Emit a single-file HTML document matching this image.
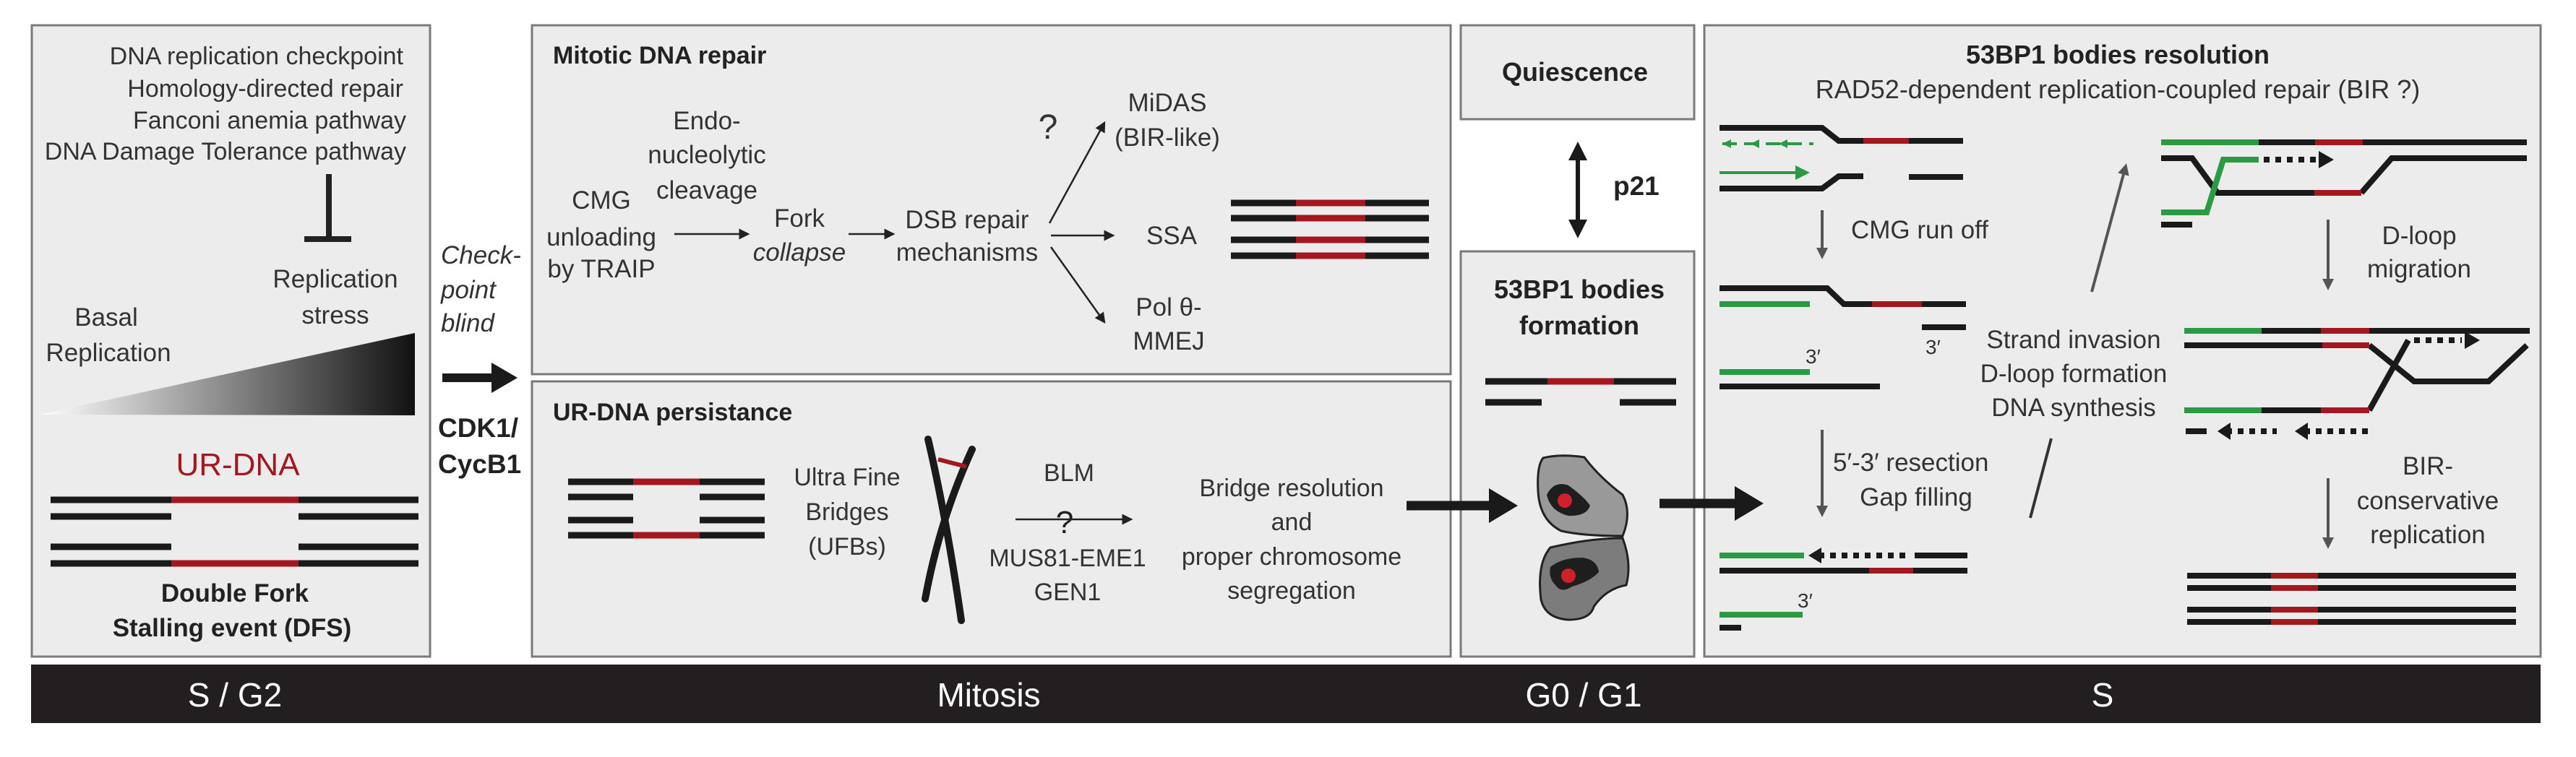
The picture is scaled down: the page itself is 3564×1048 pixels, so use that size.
<!DOCTYPE html>
<html><head><meta charset="utf-8"><style>
html,body{margin:0;padding:0;background:#fff;}
svg{display:block;}
text{font-family:"Liberation Sans",sans-serif;fill:#333;}
.b{font-weight:bold;fill:#222;}
</style></head><body>
<svg width="3564" height="1048" viewBox="0 0 3564 1048" xmlns="http://www.w3.org/2000/svg">
<defs>
<linearGradient id="g" x1="0" x2="1" y1="0" y2="0"><stop offset="0" stop-color="#fff"/><stop offset="1" stop-color="#111"/></linearGradient>
<marker id="ah" markerWidth="6" markerHeight="6" refX="5" refY="3" orient="auto" markerUnits="strokeWidth"><path d="M0,0 L6,3 L0,6 Z" fill="#222"/></marker>
<marker id="ahg" markerWidth="4" markerHeight="4" refX="3" refY="2" orient="auto" markerUnits="strokeWidth"><path d="M0,0 L4,2 L0,4 Z" fill="#555"/></marker>
<marker id="ahgr" markerWidth="5" markerHeight="5" refX="4" refY="2.5" orient="auto" markerUnits="strokeWidth"><path d="M0,0 L5,2.5 L0,5 Z" fill="#2a9a45"/></marker>
</defs>
<g fill="#ececec" stroke="#7a7a7a" stroke-width="3">
<rect x="44" y="35" width="551" height="874"/>
<rect x="736" y="35" width="1271" height="483"/>
<rect x="736" y="528" width="1271" height="381"/>
<rect x="2021" y="35" width="323" height="130"/>
<rect x="2021" y="348" width="323" height="561"/>
<rect x="2358" y="35" width="1157" height="874"/>
</g>
<rect x="43" y="920" width="3472" height="81" fill="#231f20"/>
<g style="font-size:46px">
<text x="325" y="978" text-anchor="middle" style="fill:#fff">S / G2</text>
<text x="1368" y="978" text-anchor="middle" style="fill:#fff">Mitosis</text>
<text x="2191" y="978" text-anchor="middle" style="fill:#fff">G0 / G1</text>
<text x="2909" y="978" text-anchor="middle" style="fill:#fff">S</text>
</g>

<!-- Panel 1 -->
<g style="font-size:34px" text-anchor="end">
<text x="558" y="89">DNA replication checkpoint</text>
<text x="558" y="134">Homology-directed repair</text>
<text x="562" y="178">Fanconi anemia pathway</text>
<text x="562" y="221">DNA Damage Tolerance pathway</text>
</g>
<path d="M455,241 V331 M421,331 H486" stroke="#222" stroke-width="8" fill="none"/>
<g style="font-size:35px" text-anchor="middle">
<text x="464" y="398">Replication</text><text x="464" y="448">stress</text>
<text x="147" y="451">Basal</text><text x="150" y="500">Replication</text>
</g>
<polygon points="55,574 574,461 574,575" fill="url(#g)"/>
<text x="329" y="658" text-anchor="middle" style="font-size:44px;fill:#a3171f">UR-DNA</text>
<g stroke-width="9" fill="none">
<path d="M70,692 H579 M70,715 H237 M413,715 H579 M70,757 H237 M413,757 H579 M70,780 H579" stroke="#1a1a1a"/>
<path d="M237,692 H413 M237,780 H413" stroke="#a3171f"/>
</g>
<text x="325" y="833" text-anchor="middle" class="b" style="font-size:35px">Double Fork</text>
<text x="321" y="881" text-anchor="middle" class="b" style="font-size:35px">Stalling event (DFS)</text>

<!-- checkpoint -->
<g style="font-size:35px;font-style:italic">
<text x="610" y="365">Check-</text><text x="610" y="413">point</text><text x="610" y="459">blind</text>
</g>
<path d="M612,523 H690" stroke="#1a1a1a" stroke-width="12"/>
<polygon points="680,502 716,523 680,544" fill="#1a1a1a"/>
<text x="606" y="605" class="b" style="font-size:37px">CDK1/</text>
<text x="606" y="655" class="b" style="font-size:37px">CycB1</text>

<!-- Mitotic DNA repair -->
<text x="765" y="88" class="b" style="font-size:34px">Mitotic DNA repair</text>
<g style="font-size:35px" text-anchor="middle">
<text x="978" y="179">Endo-</text><text x="978" y="226">nucleolytic</text><text x="978" y="275">cleavage</text>
<text x="832" y="289">CMG</text><text x="832" y="340">unloading</text><text x="832" y="384">by TRAIP</text>
<text x="1106" y="314">Fork</text><text x="1106" y="361" style="font-style:italic">collapse</text>
<text x="1338" y="316">DSB repair</text><text x="1338" y="361">mechanisms</text>
<text x="1615" y="154">MiDAS</text><text x="1615" y="202">(BIR-like)</text>
<text x="1621" y="338">SSA</text>
<text x="1617" y="437">Pol θ-</text><text x="1617" y="484">MMEJ</text>
<text x="1450" y="192" style="font-size:48px">?</text>
</g>
<g stroke="#222" stroke-width="2.5" fill="none" marker-end="url(#ah)">
<path d="M933,324 H1035"/>
<path d="M1174,324 H1236"/>
<path d="M1452,309 L1528,170"/>
<path d="M1454,326 L1540,326"/>
<path d="M1454,342 L1528,446"/>
</g>
<g stroke-width="9" fill="none">
<path d="M1703,281 H1977 M1703,302 H1977 M1703,332 H1977 M1703,354 H1977" stroke="#1a1a1a"/>
<path d="M1793,281 H1889 M1793,302 H1889 M1793,332 H1889 M1793,354 H1889" stroke="#a3171f"/>
</g>

<!-- UR-DNA persistance -->
<text x="765" y="582" class="b" style="font-size:34px">UR-DNA persistance</text>
<g stroke-width="9" fill="none">
<path d="M786,667 H1058 M786,688 H876 M968,688 H1058 M786,720 H876 M968,720 H1058 M786,741 H1058" stroke="#1a1a1a"/>
<path d="M876,667 H968 M876,741 H968" stroke="#a3171f"/>
</g>
<g style="font-size:34px" text-anchor="middle">
<text x="1172" y="672">Ultra Fine</text><text x="1172" y="720">Bridges</text><text x="1172" y="768">(UFBs)</text>
<text x="1479" y="666">BLM</text>
<text x="1477" y="784">MUS81-EME1</text><text x="1477" y="831">GEN1</text>
<text x="1787" y="687">Bridge resolution</text><text x="1787" y="734">and</text>
<text x="1787" y="782">proper chromosome</text><text x="1787" y="829">segregation</text>
<text x="1473" y="738" style="font-size:44px;fill:#222">?</text>
</g>
<path d="M1405,719 H1565" stroke="#222" stroke-width="2.5" marker-end="url(#ah)"/>
<g stroke="#1a1a1a" stroke-width="10" stroke-linecap="round" fill="none">
<path d="M1284,608 Q1310,720 1330,859"/>
<path d="M1345,622 Q1300,720 1280,829"/>
</g>
<path d="M1298,636 L1337,646" stroke="#a3171f" stroke-width="6"/>
<path d="M1946,700 H2070" stroke="#1a1a1a" stroke-width="13"/>
<polygon points="2060,676 2100,700 2060,724" fill="#1a1a1a"/>

<!-- Quiescence / 53BP1 formation -->
<text x="2179" y="112" text-anchor="middle" class="b" style="font-size:36px">Quiescence</text>
<path d="M2183,215 V310" stroke="#1a1a1a" stroke-width="6"/>
<polygon points="2170,222 2183,196 2196,222" fill="#1a1a1a"/>
<polygon points="2170,304 2183,330 2196,304" fill="#1a1a1a"/>
<text x="2232" y="270" class="b" style="font-size:37px">p21</text>
<text x="2185" y="413" text-anchor="middle" class="b" style="font-size:36px">53BP1 bodies</text>
<text x="2185" y="463" text-anchor="middle" class="b" style="font-size:36px">formation</text>
<g stroke-width="9" fill="none">
<path d="M2055,528 H2319 M2055,557 H2133 M2241,557 H2319" stroke="#1a1a1a"/>
<path d="M2141,528 H2233" stroke="#a3171f"/>
</g>
<path d="M2135,634 Q2160,628 2192,633 Q2212,660 2245,685 Q2258,710 2245,742 Q2190,742 2160,735 Q2130,720 2128,680 Q2126,645 2135,634 Z" fill="#999" stroke="#222" stroke-width="3"/>
<path d="M2140,685 Q2150,665 2170,672 Q2192,688 2200,700 Q2195,715 2170,714 Q2145,708 2140,685 Z" fill="#1e1e1e"/>
<circle cx="2165" cy="693" r="10" fill="#d0202a"/>
<path d="M2145,758 Q2200,745 2245,745 Q2258,780 2250,810 Q2222,815 2205,840 Q2200,858 2170,858 Q2138,856 2132,830 Q2126,780 2145,758 Z" fill="#7c7c7c" stroke="#222" stroke-width="3"/>
<path d="M2145,785 Q2160,772 2190,772 Q2210,775 2212,792 Q2200,805 2175,812 Q2160,822 2152,810 Q2142,800 2145,785 Z" fill="#1e1e1e"/>
<circle cx="2170" cy="797" r="10" fill="#d0202a"/>
<path d="M2296,697 H2410" stroke="#1a1a1a" stroke-width="13"/>
<polygon points="2400,673 2440,697 2400,721" fill="#1a1a1a"/>

<!-- 53BP1 resolution -->
<text x="2930" y="88" text-anchor="middle" class="b" style="font-size:36px">53BP1 bodies resolution</text>
<text x="2930" y="136" text-anchor="middle" style="font-size:36px">RAD52-dependent replication-coupled repair (BIR ?)</text>
<g fill="none" stroke-width="8" stroke-linejoin="miter">
<path d="M2379,177 H2521 L2544,195 H2716" stroke="#1a1a1a"/>
<path d="M2578,195 H2641" stroke="#a3171f"/>
<path d="M2379,261 H2521 L2544,244 H2578 M2641,245 H2716" stroke="#1a1a1a"/>
<path d="M2379,399 H2528 L2551,421 H2720 M2659,453 H2720 M2379,535 H2601" stroke="#1a1a1a"/>
<path d="M2590,421 H2659" stroke="#a3171f"/>
<path d="M2379,421 H2504 M2379,515 H2504" stroke="#2a9a45"/>
<path d="M2649,769 H2722 M2379,790 H2722 M2379,869 H2409" stroke="#1a1a1a"/>
<path d="M2586,790 H2647" stroke="#a3171f"/>
<path d="M2379,769 H2496 M2379,851 H2494" stroke="#2a9a45"/>
<path d="M2516,769 H2639" stroke="#1a1a1a" stroke-dasharray="8,8"/>
<path d="M3125,197 H3496 M2990,219 H3033 L3068,267 H3202 M3267,267 L3309,219 H3496 M2990,311 H3033" stroke="#1a1a1a"/>
<path d="M2990,197 H3125 M2990,294 H3053 L3076,221 H3125" stroke="#2a9a45"/>
<path d="M3203,197 H3269 M3202,267 H3267" stroke="#a3171f"/>
<path d="M3132,221 H3210" stroke="#1a1a1a" stroke-dasharray="8,8"/>
<path d="M3129,458 H3500 M3022,478 H3213 M3278,478 L3340,528 H3443 L3496,478 M3129,568 H3211 M3278,568 L3332,471 M3024,597 H3053" stroke="#1a1a1a"/>
<path d="M3022,458 H3129 M3022,568 H3129" stroke="#2a9a45"/>
<path d="M3211,458 H3278 M3213,478 H3278 M3211,568 H3278" stroke="#a3171f"/>
<path d="M3340,471 H3406" stroke="#1a1a1a" stroke-dasharray="8,8"/>
<path d="M3080,597 H3150 M3188,597 H3282" stroke="#1a1a1a" stroke-dasharray="8,8"/>
<path d="M3026,797 H3481 M3026,814 H3481 M3026,844 H3481 M3026,861 H3481" stroke="#1a1a1a"/>
<path d="M3142,797 H3207 M3142,814 H3207 M3142,844 H3207 M3142,861 H3207" stroke="#a3171f"/>
</g>
<g fill="#1a1a1a">
<polygon points="2502,769 2520,758 2520,780"/>
<polygon points="3229,221 3208,209 3208,233"/>
<polygon points="3431,471 3410,459 3410,483"/>
<polygon points="3068,597 3086,585 3086,609"/>
<polygon points="3175,597 3193,585 3193,609"/>
</g>
<g stroke="#2a9a45" stroke-width="4" fill="none">
<path d="M2383,199 H2509" stroke-dasharray="20,10"/>
<path d="M2379,239 H2500" marker-end="url(#ahgr)"/>
</g>
<g fill="#2a9a45"><polygon points="2383,199 2395,193 2395,205"/><polygon points="2422,199 2434,193 2434,205"/><polygon points="2461,199 2473,193 2473,205"/></g>
<g stroke="#555" stroke-width="4" fill="none" marker-end="url(#ahg)">
<path d="M2521,291 V355"/>
<path d="M2521,595 V712"/>
<path d="M2894,404 L2941,230"/>
<path d="M3221,304 V398"/>
<path d="M3221,662 V756"/>
</g>
<path d="M2838,607 L2809,717" stroke="#333" stroke-width="4"/>
<g style="font-size:35px">
<text x="2561" y="330">CMG run off</text>
<text x="2536" y="652">5′-3′ resection</text>
<text x="2651" y="700" text-anchor="middle">Gap filling</text>
<text x="2664" y="490" style="font-size:28px">3′</text>
<text x="2498" y="503" style="font-size:28px">3′</text>
<text x="2487" y="841" style="font-size:28px">3′</text>
<text x="2869" y="482" text-anchor="middle">Strand invasion</text>
<text x="2869" y="529" text-anchor="middle">D-loop formation</text>
<text x="2869" y="576" text-anchor="middle">DNA synthesis</text>
<text x="3347" y="338" text-anchor="middle">D-loop</text>
<text x="3347" y="384" text-anchor="middle">migration</text>
<text x="3359" y="657" text-anchor="middle">BIR-</text>
<text x="3359" y="705" text-anchor="middle">conservative</text>
<text x="3359" y="752" text-anchor="middle">replication</text>
</g>
</svg>
</body></html>
